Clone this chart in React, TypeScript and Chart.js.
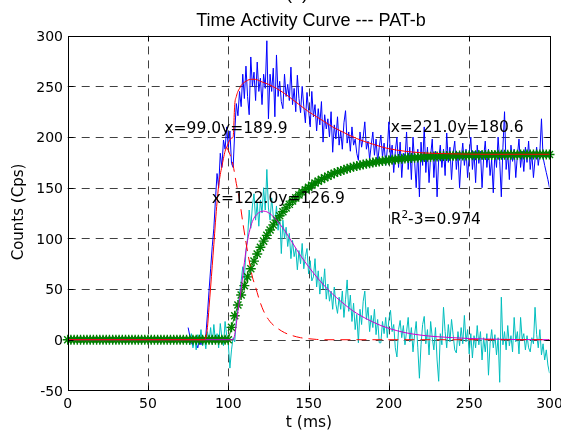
import React, { useEffect, useRef } from "react";
import { Chart, registerables } from "chart.js";

Chart.register(...registerables);

// ---------------- data ----------------
const X_TICKS = [0, 50, 100, 150, 200, 250, 300];
const Y_TICKS = [-50, 0, 50, 100, 150, 200, 250, 300];

const TITLE = "Time Activity Curve --- PAT-b";
const PANEL = "(b)";
const X_LABEL = "t (ms)";
const Y_LABEL = "Counts (Cps)";

// noisy measured curves, sampled every 1 ms starting at 75 ms
const NOISY_START = 75;
const blueCounts = [
  12, 4, -3, -6, 2, -4, -8, 1, -5, 3,
  -2, 4, 25, 48, 70, 92, 110, 138, 164, 150,
  184, 170, 197, 188, 210, 190, 206, 174, 170, 205,
  233, 221, 245, 230, 262, 238, 270, 240, 222, 279,
  250, 264, 236, 274, 245, 258, 232, 262, 248, 295,
  218, 262, 245, 268, 220, 281, 240, 255, 235, 228,
  262, 240, 252, 236, 269, 232, 248, 225, 261, 238,
  224, 250, 230, 214, 244, 226, 210, 245, 220, 232,
  206, 228, 212, 235, 195, 222, 208, 218, 200, 225,
  185, 212, 198, 220, 192, 206, 188, 214, 226, 194,
  205, 186, 210, 192, 198, 184, 177, 205, 190, 200,
  215, 188, 196, 178, 192, 205, 182, 198, 175, 190,
  202, 180, 194, 172, 188, 215, 178, 192, 165, 186,
  200, 170, 195, 160, 184, 178, 205, 168, 190, 158,
  200, 176, 150, 188, 141, 195, 172, 210, 165, 190,
  155, 182, 198, 160, 186, 141, 178, 192, 170, 188,
  162, 204, 175, 190, 158, 184, 196, 168, 185, 150,
  178, 194, 172, 188, 160, 182, 200, 168, 186, 155,
  192, 174, 186, 150, 180, 196, 170, 188, 162, 178,
  145, 186, 170, 200, 176, 141, 190, 225, 168, 185,
  158, 192, 176, 188, 160, 182, 198, 170, 186, 166,
  190, 175, 196, 168, 184, 160, 178, 190, 172, 185,
  218, 180, 172, 165, 158, 150,
];
const cyanCounts = [
  2, -5, 6, -8, 3, -10, 5, -4, 10, -6,
  2, -9, 8, -3, 12, -5, 15, -2, 6, -8,
  16, 2, -6, 18, 4, -4, -28, -10, 2, -2,
  20, 32, 45, 58, 72, 60, 88, 100, 128, 110,
  132, 144, 118, 135, 112, 138, 125, 150, 128, 168,
  130, 118, 140, 122, 115, 132, 108, 125, 85, 118,
  100, 111, 92, 105, 80, 98, 82, 90, 69, 88,
  75, 95, 70, 82, 90, 65, 78, 58, 62, 80,
  52, 68, 45, 62, 50, 70, 40, 55, 38, 48,
  30, 52, 35, 26, 42, 30, 48, 22, 40, 59,
  28, 44, 18, 36, 10, 25, -3, 30, 15, 38,
  48, 20, 32, 8, 24, 12, 30, 5, 20, -3,
  -3, 18, 6, 22, 2, 20, 29, 8, 15, -8,
  -17, 10, 19, 2, 14, -5, 8, 22, -2, 12,
  -12, 5, 18, -8, -38, -5, 15, 23, -4, 10,
  -15, 18, 2, -10, 12, -20, -41, 6, -5, 32,
  8, -8, 15, -2, 20, 5, -10, -13, 8, -6,
  12, -4, 24, -2, 10, -14, 6, -18, 4, -8,
  14, -5, 8, -20, 2, -12, 6, -35, -4, 10,
  -8, 5, -15, 2, -42, 42, -5, 8, -10, 14,
  -6, 4, -12, 22, -2, 8, -14, 22, 0, 6,
  -10, 4, -8, -12, 2, -4, 32, 5, -8, 10,
  -15, -4, -20, -10, -25, -33,
];

// fitted curve (red, solid)
const redFitT = [0, 85, 86, 87, 88, 89, 90, 91, 92, 93, 94, 95, 96, 97, 98, 99, 100, 101, 102, 103, 104, 105, 106, 107, 108, 110, 112, 114, 116, 118, 120, 125, 130, 135, 140, 145, 150, 155, 160, 165, 170, 175, 180, 185, 190, 195, 200, 210, 220, 230, 240, 260, 300];
const redFitY = [0, 0, 2, 12, 32, 52, 73, 94, 116, 136, 152, 163, 171, 179, 186, 190, 194, 197, 199, 200, 232, 240, 245, 248, 251, 254, 256, 257, 257, 256.5, 255, 252, 248, 243, 237, 231, 225, 220, 215, 210, 206, 202, 198.5, 195.5, 193, 190.5, 188.5, 186, 184.5, 183.8, 183.4, 183, 183];

// input function (red, dashed)
const redInputT = [99, 101, 103, 105, 107, 109, 111, 113, 115, 117, 119, 121, 123, 125, 127, 130, 135, 140, 145, 150, 155, 160, 300];
const redInputY = [190, 183, 172, 154, 138, 116, 96, 78, 62, 52, 41, 32, 25, 20, 16, 12, 7, 4, 2, 1, 0.3, 0, 0];

// fitted curve (magenta)
const magentaFitT = [0, 103, 104, 106, 108, 110, 112, 114, 116, 118, 120, 122, 124, 126, 128, 130, 135, 140, 145, 150, 155, 160, 165, 170, 175, 180, 185, 190, 195, 200, 210, 220, 230, 240, 250, 260, 280, 300];
const magentaFitY = [0, 0, 5, 28, 50, 76, 98, 112, 120, 124, 126.3, 126.9, 126.2, 124.3, 121.5, 118, 108, 95.5, 83, 72, 62, 53, 45, 38, 31.5, 26, 21.5, 17.5, 14, 11.2, 7, 4.5, 3, 2, 1.2, 0.7, 0.2, 0];

// cumulative curve (green stars), sampled every 2 ms from 0 ms
const GREEN_STEP = 2;
const greenCum = [
  0, 0, 0, 0, 0, 0, 0, 0, 0, 0,
  0, 0, 0, 0, 0, 0, 0, 0, 0, 0,
  0, 0, 0, 0, 0, 0, 0, 0, 0, 0,
  0, 0, 0, 0, 0, 0, 0, 0, 0, 0,
  0, 0, 0, 0, 0, 0, 0, 0, 0, 0,
  0,
  12.2, 23.6, 34.2, 44.1, 53.4, 62.0, 70.1, 77.6, 84.6, 91.2,
  97.3, 103.0, 108.3, 113.3, 118.0, 122.3, 126.3, 130.1, 133.6, 136.9,
  140.0, 142.9, 145.5, 148.0, 150.4, 152.5, 154.6, 156.5, 158.2, 159.9,
  161.4, 162.9, 164.2, 165.5, 166.6, 167.7, 168.7, 169.7, 170.6, 171.4,
  172.2, 172.9, 173.6, 174.2, 174.8, 175.3, 175.8, 176.3, 176.8, 177.2,
  177.6, 177.9, 178.3, 178.6, 178.9, 179.2, 179.4, 179.6, 179.9, 180.1,
  180.3, 180.5, 180.6, 180.8, 180.9, 181.1, 181.2, 181.3, 181.4, 181.5,
  181.6, 181.7, 181.8, 181.9, 182.0, 182.0, 182.1, 182.2, 182.2, 182.3,
  182.3, 182.4, 182.4, 182.5, 182.5, 182.5, 182.6, 182.6, 182.6, 182.6,
  182.7, 182.7, 182.7, 182.7, 182.8, 182.8, 182.8, 182.8, 182.8, 182.8,
];

// text annotations: [x, y (baseline), text]
const annotations: [number, number, string][] = [
  [60.2, 204.1, "x=99.0y=189.9"],
  [89.7, 135.1, "x=122.0y=126.9"],
  [201.1, 205.1, "x=221.0y=180.6"],
];
const R2_POS: [number, number] = [201.1, 114.1];
const R2_SUP = "2";
const R2_REST = "-3=0.974";

// ---------------- styles ----------------
const FONT = '"DejaVu Sans", sans-serif';
const TITLE_FONT = '18px "Liberation Sans", Arial, sans-serif';

const decorPlugin = {
  id: "decor",
  beforeDatasetsDraw(chart: any) {
    const { ctx, chartArea: a, scales } = chart;
    const x = scales.x;
    const y = scales.y;
    ctx.save();
    ctx.strokeStyle = "rgba(30,30,30,0.85)";
    ctx.lineWidth = 1;
    ctx.setLineDash([8, 6]);
    for (const v of X_TICKS) {
      if (v === x.min || v === x.max) continue;
      const px = Math.round(x.getPixelForValue(v)) + 0.5;
      ctx.beginPath();
      ctx.moveTo(px, a.bottom);
      ctx.lineTo(px, a.top);
      ctx.stroke();
    }
    for (const v of Y_TICKS) {
      if (v === y.min || v === y.max) continue;
      const py = Math.round(y.getPixelForValue(v)) + 0.5;
      ctx.beginPath();
      ctx.moveTo(a.left, py);
      ctx.lineTo(a.right, py);
      ctx.stroke();
    }
    ctx.restore();
  },
  afterDraw(chart: any) {
    const { ctx, chartArea: a, scales } = chart;
    const x = scales.x;
    const y = scales.y;
    ctx.save();
    const L = Math.round(a.left) + 0.5;
    const R = Math.round(a.right) + 0.5;
    const T = Math.round(a.top) + 0.5;
    const B = Math.round(a.bottom) + 0.5;
    ctx.strokeStyle = "#000";
    ctx.lineWidth = 1;
    ctx.setLineDash([]);
    ctx.strokeRect(L, T, R - L, B - T);
    const tl = 5;
    ctx.beginPath();
    for (const v of X_TICKS) {
      const px = Math.round(x.getPixelForValue(v)) + 0.5;
      ctx.moveTo(px, B);
      ctx.lineTo(px, B - tl);
      ctx.moveTo(px, T);
      ctx.lineTo(px, T + tl);
    }
    for (const v of Y_TICKS) {
      const py = Math.round(y.getPixelForValue(v)) + 0.5;
      ctx.moveTo(L, py);
      ctx.lineTo(L + tl, py);
      ctx.moveTo(R, py);
      ctx.lineTo(R - tl, py);
    }
    ctx.stroke();

    ctx.fillStyle = "#000";
    ctx.font = `14px ${FONT}`;
    ctx.textAlign = "center";
    ctx.textBaseline = "alphabetic";
    for (const v of X_TICKS) {
      ctx.fillText(String(v), x.getPixelForValue(v), 407.7);
    }
    ctx.textAlign = "right";
    for (const v of Y_TICKS) {
      ctx.fillText(String(v), 63, y.getPixelForValue(v) + 5.3);
    }
    ctx.font = `15.5px ${FONT}`;
    ctx.textAlign = "center";
    ctx.fillText(X_LABEL, 309, 426.5);
    ctx.save();
    ctx.translate(23, 212);
    ctx.rotate(-Math.PI / 2);
    ctx.font = `15px ${FONT}`;
    ctx.fillText(Y_LABEL, 0, 0);
    ctx.restore();
    ctx.font = TITLE_FONT;
    ctx.textAlign = "center";
    ctx.fillText(TITLE, 311, 26);
    ctx.fillText(PANEL, 297, -0.8);
    ctx.font = `15.5px ${FONT}`;
    ctx.textAlign = "left";
    for (const [vx, vy, s] of annotations) {
      ctx.fillText(s, x.getPixelForValue(vx), y.getPixelForValue(vy));
    }
    const rx = x.getPixelForValue(R2_POS[0]);
    const ry = y.getPixelForValue(R2_POS[1]);
    ctx.fillText("R", rx, ry);
    const rw = ctx.measureText("R").width;
    ctx.font = `10.5px ${FONT}`;
    ctx.fillText(R2_SUP, rx + rw, ry - 6.5);
    const sw = ctx.measureText(R2_SUP).width;
    ctx.font = `15.5px ${FONT}`;
    ctx.fillText(R2_REST, rx + rw + sw, ry);
    ctx.restore();
  },
};

export default function App() {
  const ref = useRef<HTMLCanvasElement | null>(null);

  useEffect(() => {
    document.body.style.margin = "0";
    const canvas = ref.current;
    if (!canvas) return;

    const blueData = blueCounts.map((v, i) => ({ x: NOISY_START + i, y: v }));
    const cyanData = cyanCounts.map((v, i) => ({ x: NOISY_START + i, y: v }));
    const redData = redFitT.map((t, i) => ({ x: t, y: redFitY[i] }));
    const inputData = redInputT.map((t, i) => ({ x: t, y: redInputY[i] }));
    const magData = magentaFitT.map((t, i) => ({ x: t, y: magentaFitY[i] }));
    const greenData = greenCum.map((v, i) => ({ x: i * GREEN_STEP, y: v }));

    const lineBase = {
      pointRadius: 0,
      borderWidth: 1,
      tension: 0,
      fill: false,
    };

    const chart = new Chart(canvas, {
      type: "line",
      data: {
        datasets: [
          { ...lineBase, label: "input", data: inputData, borderColor: "rgb(255,0,0)", borderDash: [10, 6], order: 0, cubicInterpolationMode: "monotone" },
          { ...lineBase, label: "fit", data: redData, borderColor: "rgb(255,0,0)", order: 1, cubicInterpolationMode: "monotone" },
          { ...lineBase, label: "fit2", data: magData, borderColor: "rgb(204,0,204)", order: 2, cubicInterpolationMode: "monotone" },
          {
            label: "cum",
            data: greenData,
            showLine: true,
            borderWidth: 1,
            pointStyle: "star",
            pointRadius: 5,
            pointBorderColor: "rgb(0,128,0)",
            pointBackgroundColor: "rgb(0,128,0)",
            pointBorderWidth: 1.4,
            borderColor: "rgb(0,128,0)",
            order: 3,
            clip: false,
          },
          { ...lineBase, label: "tac2", data: cyanData, borderColor: "rgb(0,190,190)", order: 4 },
          { ...lineBase, label: "tac", data: blueData, borderColor: "rgb(0,0,255)", order: 5 },
        ] as any,
      },
      options: {
        animation: false,
        responsive: false,
        devicePixelRatio: 1,
        events: [],
        layout: { padding: { left: 67.7, right: 11.5, top: 35.7, bottom: 40.6 } },
        plugins: {
          legend: { display: false },
          tooltip: { enabled: false },
          title: { display: false },
        },
        scales: {
          x: { type: "linear", min: 0, max: 300, display: false },
          y: { type: "linear", min: -50, max: 300, display: false },
        },
      },
      plugins: [decorPlugin],
    });

    return () => chart.destroy();
  }, []);

  return (
    <div style={{ width: 561, height: 431, position: "relative", background: "#fff" }}>
      <canvas ref={ref} width={561} height={431} style={{ display: "block" }} />
    </div>
  );
}
